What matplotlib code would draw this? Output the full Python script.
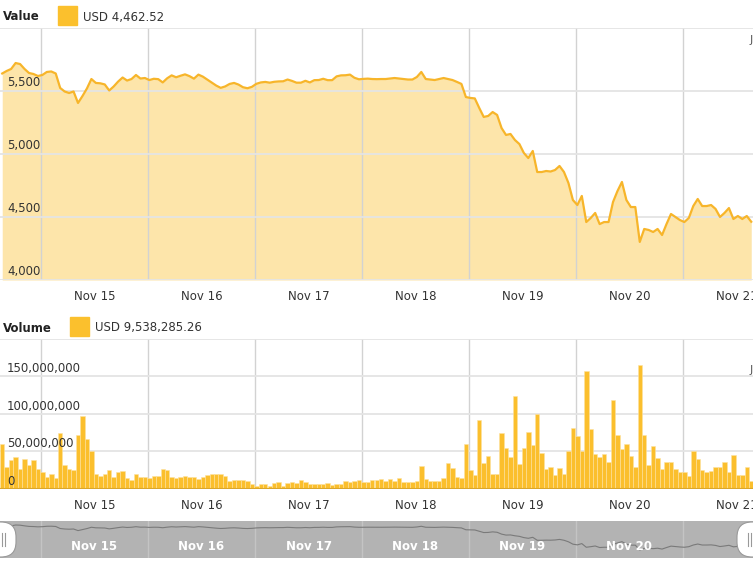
import matplotlib.pyplot as plt
import matplotlib.patches as mpatches
from matplotlib.transforms import IdentityTransform, blended_transform_factory

# hourly price (USD), one point per bar
price = [5639, 5659, 5675, 5722, 5714, 5675, 5643, 5635, 5619, 5627,
         5651, 5655, 5639, 5524, 5496, 5484, 5496, 5405, 5460, 5520,
         5595, 5564, 5561, 5552, 5504, 5536, 5575, 5607, 5583, 5595,
         5627, 5599, 5603, 5587, 5597, 5594, 5568, 5601, 5624, 5609,
         5621, 5632, 5618, 5598, 5630, 5614, 5590, 5565, 5543, 5525,
         5536, 5556, 5564, 5551, 5530, 5522, 5533, 5557, 5568, 5572,
         5566, 5573, 5576, 5577, 5591, 5580, 5566, 5566, 5581, 5568,
         5586, 5587, 5597, 5586, 5586, 5616, 5624, 5625, 5630, 5605,
         5593, 5596, 5598, 5595, 5594, 5595, 5595, 5599, 5603, 5599,
         5595, 5591, 5591, 5611, 5651, 5595, 5591, 5587, 5595, 5603,
         5595, 5587, 5572, 5556, 5452, 5445, 5441, 5365, 5294, 5302,
         5333, 5310, 5206, 5151, 5159, 5111, 5079, 5008, 4968, 5024,
         4857, 4857, 4865, 4861, 4873, 4905, 4857, 4770, 4635, 4595,
         4667, 4460, 4492, 4532, 4444, 4460, 4460, 4619, 4706, 4778,
         4635, 4579, 4579, 4302, 4405, 4397, 4381, 4405, 4357, 4444,
         4524, 4500, 4476, 4460, 4492, 4587, 4643, 4587, 4587, 4595,
         4564, 4500, 4532, 4571, 4484, 4508, 4484, 4508, 4462.52]

# hourly volume, millions of USD
volume = [60, 29, 38, 42, 26, 39, 32, 38, 26, 22,
          15.6, 20, 14, 74, 32, 26, 25, 71, 97, 66,
          50, 19, 17, 19, 24.5, 16, 22, 24, 14, 11.6,
          19, 16, 16, 14, 17, 17, 26, 25, 16, 14,
          16, 17, 16, 16, 13, 16, 18, 19, 19, 19,
          17, 10.5, 12, 12, 12, 10, 6, 3.3, 6, 6,
          4, 7, 9, 3.3, 7, 9, 7, 12, 9, 6,
          5.5, 5.5, 5.5, 7, 5, 5.5, 5.5, 10.5, 9, 10.5,
          12, 9, 9, 12, 11, 12.3, 10.5, 12.3, 10.5, 14,
          8.7, 8.7, 8.7, 10.5, 30, 12.3, 10.5, 10.5, 10.5, 14,
          34.6, 27.4, 15.8, 14, 59.5, 24.8, 17.6, 91.6, 34.6, 43.5,
          19.4, 19.4, 73.4, 53.7, 41.7, 122.9, 32.8, 53.7, 74.7, 58.2,
          99.2, 48, 25.6, 28.3, 17.6, 27.4, 19.4, 50.2, 81, 70.2,
          50.2, 156.3, 79.2, 46.2, 42.6, 46.2, 35.5, 117.5, 71.6, 52.4,
          59.5, 43.5, 28.3, 165.2, 71.6, 31, 56.9, 40.4, 26.5, 35.5,
          35.5, 26.5, 22.5, 22, 17.2, 49.7, 39, 24.8, 22, 23.9,
          28.3, 28.3, 35.5, 22, 44.8, 17.6, 17.6, 29.2, 10.5]

day_labels = ['Nov 15', 'Nov 16', 'Nov 17', 'Nov 18', 'Nov 19', 'Nov 20', 'Nov 21']
price_ticks = [4000, 4500, 5000, 5500, 6000]
price_labels = ['4,000', '4,500', '5,000', '5,500']
vol_ticks = [0, 50, 100, 150, 200]
vol_labels = ['0', '50,000,000', '100,000,000', '150,000,000']

W, H = 753, 562
fig = plt.figure(figsize=(W / 100, H / 100), dpi=100)
plt.rcParams['font.family'] = ['DejaVu Sans']

LINE = '#F7B52A'
FILL = '#FDE5AA'
BAR = '#FBBF2D'
TXT = '#333333'

def box(x0, y0, x1, y1):
    return [x0 / W, 1 - y1 / H, (x1 - x0) / W, (y1 - y0) / H]

n = len(price)
xs = [i + 0.5 for i in range(n)]
xmax = W / (107 / 24)
day0 = 41 / (107 / 24)          # Nov 15 00:00 in hours from start
grid_x = [day0 + 24 * k for k in range(7)]
label_x = [g + 12 for g in grid_x]

def style(ax, below=False):
    ax.set_xlim(0, xmax)
    for s in ax.spines.values():
        s.set_visible(False)
    ax.set_xticks(grid_x)
    ax.tick_params(length=0, labelbottom=False, labelleft=False)
    ax.grid(axis='x', color='#d2d2d2', lw=1)
    ax.grid(axis='y', color='#e4e4e4', lw=1.3)
    ax.set_axisbelow(below)

# value chart
ax1 = fig.add_axes(box(0, 28, W, 280))
ax1.fill_between(xs, price, 4000, color=FILL, lw=0, zorder=1)
ax1.plot(xs, price, color=LINE, lw=1.6, zorder=3)
ax1.set_ylim(4000, 6000)
ax1.set_yticks(price_ticks)
style(ax1)
tr = blended_transform_factory(IdentityTransform(), ax1.transData)
for v, lab in zip(price_ticks, price_labels):
    ax1.text(7, v + 12, lab, transform=tr, fontsize=8.5, color=TXT, va='bottom', ha='left', zorder=5)
for x, lab in zip(label_x, day_labels):
    fig.text(x / xmax, 1 - 297 / H, lab, fontsize=8.5, color=TXT, ha='center', va='center')

# volume chart
ax2 = fig.add_axes(box(0, 338.5, W, 488.5))
ax2.bar(xs, volume, width=1, color=BAR, edgecolor='#FDE2A0', lw=0.4, zorder=2)
ax2.axhline(0, color='#D9A62C', lw=1.5, zorder=4)
ax2.set_ylim(0, 200)
ax2.set_yticks(vol_ticks)
style(ax2, below=True)
tr2 = blended_transform_factory(IdentityTransform(), ax2.transData)
for v, lab in zip(vol_ticks, vol_labels):
    ax2.text(7, v + 0.8, lab, transform=tr2, fontsize=8.5, color=TXT, va='bottom', ha='left', zorder=5)
for x, lab in zip(label_x, day_labels):
    fig.text(x / xmax, 1 - 505.5 / H, lab, fontsize=8.5, color=TXT, ha='center', va='center')

# headers
fig.text(3 / W, 1 - 17 / H, 'Value', fontsize=8.5, weight='bold', color='#222222', va='center')
fig.add_artist(mpatches.Rectangle((58 / W, 1 - 25 / H), 19 / W, 19 / H, transform=fig.transFigure,
                                  color='#FBC02D'))
fig.text(83 / W, 1 - 17 / H, 'USD 4,462.52', fontsize=8.5, color=TXT, va='center')
fig.text(3 / W, 1 - 328 / H, 'Volume', fontsize=8.5, weight='bold', color='#222222', va='center')
fig.add_artist(mpatches.Rectangle((70 / W, 1 - 336 / H), 19 / W, 19 / H, transform=fig.transFigure,
                                  color='#FBC02D'))
fig.text(95 / W, 1 - 328 / H, 'USD 9,538,285.26', fontsize=8.5, color=TXT, va='center')
fig.text(749.5 / W, 1 - 40 / H, 'JS chart', fontsize=8, color='#555555', va='center')
fig.text(749.5 / W, 1 - 370 / H, 'JS chart', fontsize=8, color='#555555', va='center')

# navigator
ax3 = fig.add_axes(box(0, 521, W, 558))
ax3.set_facecolor('#B3B3B3')
ax3.plot(xs, price, color='#7a7a7a', lw=0.8)
ax3.set_ylim(3850, 5950)
ax3.set_xlim(0, xmax)
for s in ax3.spines.values():
    s.set_visible(False)
ax3.set_xticks(grid_x)
ax3.set_yticks([])
ax3.tick_params(length=0, labelbottom=False)
ax3.grid(axis='x', color='#c4c4c4', lw=1)
for x, lab in zip(label_x, day_labels[:-1]):
    ax3.text(x, 0.3, lab, transform=blended_transform_factory(ax3.transData, ax3.transAxes),
             fontsize=8.5, color='white', ha='center', va='center', weight='bold')

for cx in (0, W):
    h = mpatches.FancyBboxPatch((cx - 16, H - 558 + 1), 32, 35,
                                boxstyle='round,pad=0,rounding_size=15',
                                transform=IdentityTransform(), fc='white', ec='#999999', lw=0.8)
    fig.add_artist(h)
for lx in (2, 5, W - 5, W - 2):
    fig.add_artist(plt.Line2D([lx, lx], [H - 546, H - 533], transform=IdentityTransform(),
                              color='#999999', lw=0.8))

fig.savefig('out.png', dpi=100)
